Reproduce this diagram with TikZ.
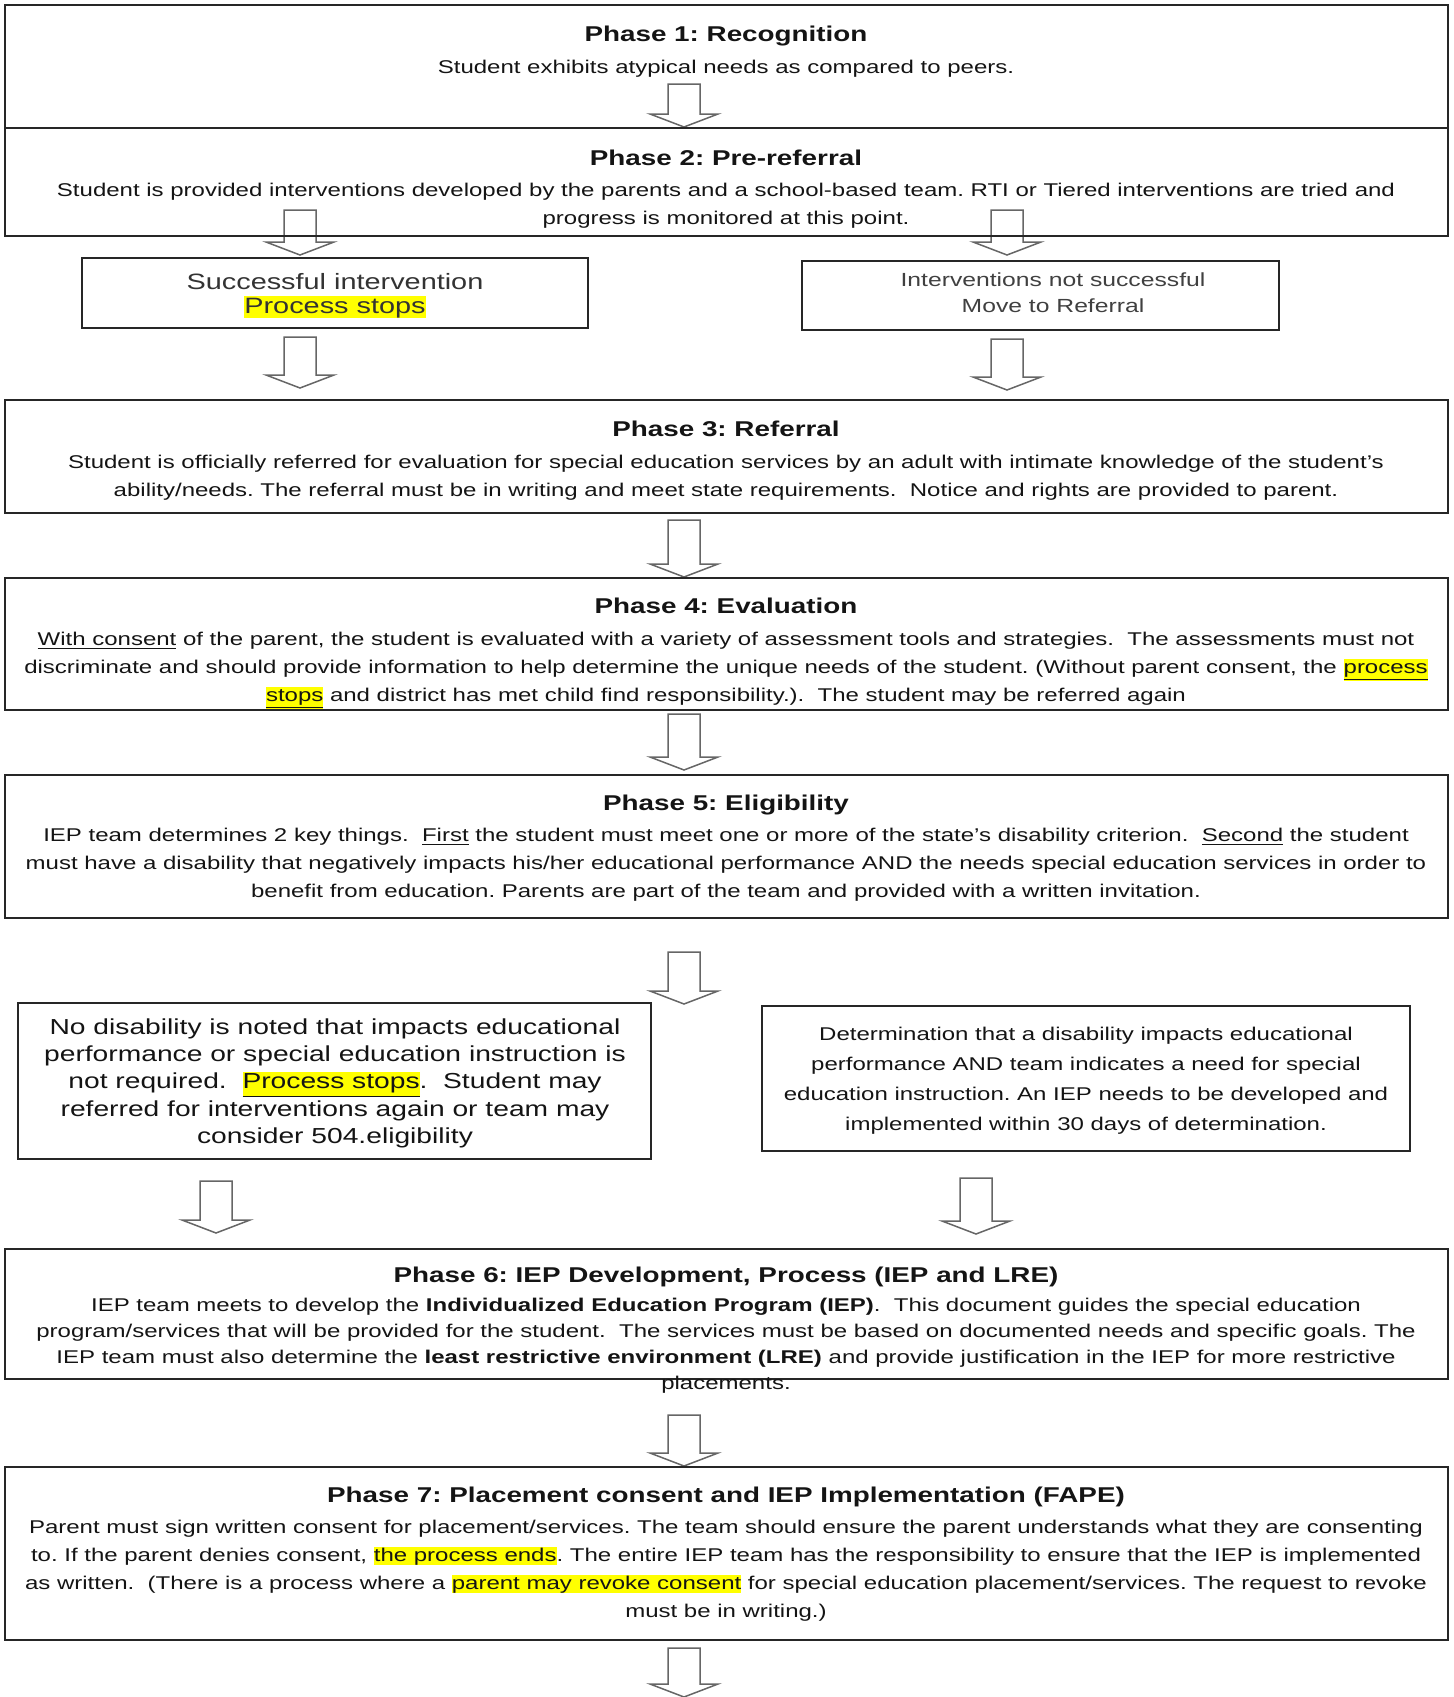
\documentclass[tikz,border=0pt]{standalone}
\usepackage{fontspec}
\setmainfont{Liberation Sans}[FakeStretch=1.3]
\usetikzlibrary{fit}
\definecolor{hly}{HTML}{FFFF00}
\frenchspacing
\newcommand{\hlt}[1]{{\setlength{\fboxsep}{0pt}\colorbox{hly}{\rule[-0.22em]{0pt}{1.0em}#1}}}
\newcommand{\BlockDown}[3]{\draw[barrow] ({#1-16},#2) -- ({#1+16},#2) -- ({#1+16},{#3-13}) -- ({#1+34},{#3-13}) -- (#1,#3) -- ({#1-34},{#3-13}) -- ({#1-16},{#3-13}) -- cycle;}
\tikzset{
  box/.style={draw=black!85, line width=1pt, inner sep=0pt},
  txt/.style={inner sep=0pt, anchor=base, text=black!92},
  ttl/.style={txt, font=\fontsize{10.7}{13}\bfseries\selectfont},
  body/.style={txt, font=\fontsize{9.23}{#1}\selectfont},
  barrow/.style={draw=black!60, line width=0.75pt, fill=white},
}
\begin{document}
\begin{tikzpicture}[x=0.5pt, y=-0.5pt]
\useasboundingbox (0,0) rectangle (1453,1697);
% block arrows
\BlockDown{684}{84}{127}
\BlockDown{300}{210}{255}
\BlockDown{1007}{210}{255}
\BlockDown{300}{337}{388}
\BlockDown{1007}{339}{390}
\BlockDown{684}{520}{577}
\BlockDown{684}{714}{770}
\BlockDown{684}{952}{1004}
\BlockDown{216}{1181}{1233}
\BlockDown{976}{1178}{1234}
\BlockDown{684}{1415}{1466}
\BlockDown{684}{1648}{1697}
% boxes
\node[box, fit={(5,5) (1448,128)}] (p1) {};
\node[box, fit={(5,128) (1448,236)}] (p2) {};
\node[box, fit={(82,258) (588,328)}] (s1) {};
\node[box, fit={(802,261) (1279,330)}] (s2) {};
\node[box, fit={(5,400) (1448,513)}] (p3) {};
\node[box, fit={(5,578) (1448,710)}] (p4) {};
\node[box, fit={(5,775) (1448,918)}] (p5) {};
\node[box, fit={(18,1003) (651,1159)}] (d1) {};
\node[box, fit={(762,1006) (1410,1151)}] (d2) {};
\node[box, fit={(5,1249) (1448,1379)}] (p6) {};
\node[box, fit={(5,1467) (1448,1640)}] (p7) {};
% texts
\node[ttl] (p1t) at (726,41) {Phase 1: Recognition};
\node[body=14pt] (p1b) at (726,73) {Student exhibits atypical needs as compared to peers.};

\node[ttl] (p2t) at (726,165) {Phase 2: Pre-referral};
\node[body=14pt] (p2b) at (726,196) {\begin{tabular}[t]{@{}c@{}}Student is provided interventions developed by the parents and a school-based team. RTI or Tiered interventions are tried and\\progress is monitored at this point.\end{tabular}};

\node[txt, font=\fontsize{11.1}{12}\selectfont, text=black!80] (s1t) at (335,289) {\begin{tabular}[t]{@{}c@{}}Successful intervention\\\hlt{Process stops}\end{tabular}};
\node[txt, font=\fontsize{9.5}{13}\selectfont, text=black!75] (s2t) at (1053,286) {\begin{tabular}[t]{@{}c@{}}Interventions not successful\\Move to Referral\end{tabular}};

\node[ttl] (p3t) at (726,436) {Phase 3: Referral};
\node[body=14pt] (p3b) at (726,468) {\begin{tabular}[t]{@{}c@{}}Student is officially referred for evaluation for special education services by an adult with intimate knowledge of the student’s\\ability/needs. The referral must be in writing and meet state requirements.~ Notice and rights are provided to parent.\end{tabular}};

\node[ttl] (p4t) at (726,613) {Phase 4: Evaluation};
\node[body=14pt] (p4b) at (726,645) {\begin{tabular}[t]{@{}c@{}}\underline{With consent} of the parent, the student is evaluated with a variety of assessment tools and strategies.~ The assessments must not\\discriminate and should provide information to help determine the unique needs of the student. (Without parent consent, the \hlt{\underline{process}}\\\hlt{\underline{stops}} and district has met child find responsibility.).~ The student may be referred again\end{tabular}};

\node[ttl] (p5t) at (726,810) {Phase 5: Eligibility};
\node[body=14pt] (p5b) at (726,841) {\begin{tabular}[t]{@{}c@{}}IEP team determines 2 key things.~ \underline{First} the student must meet one or more of the state’s disability criterion.~ \underline{Second} the student\\must have a disability that negatively impacts his/her educational performance AND the needs special education services in order to\\benefit from education. Parents are part of the team and provided with a written invitation.\end{tabular}};

\node[txt, font=\fontsize{10.85}{13.65}\selectfont] (d1t) at (335,1034) {\begin{tabular}[t]{@{}c@{}}No disability is noted that impacts educational\\performance or special education instruction is\\not required.~ \hlt{\underline{Process stops}}.~ Student may\\referred for interventions again or team may\\consider 504.eligibility\end{tabular}};
\node[body=15pt] (d2t) at (1086,1040) {\begin{tabular}[t]{@{}c@{}}Determination that a disability impacts educational\\performance AND team indicates a need for special\\education instruction. An IEP needs to be developed and\\implemented within 30 days of determination.\end{tabular}};

\node[ttl] (p6t) at (726,1282) {Phase 6: IEP Development, Process (IEP and LRE)};
\node[body=13pt] (p6b) at (726,1311) {\begin{tabular}[t]{@{}c@{}}IEP team meets to develop the \textbf{Individualized Education Program (IEP)}.~ This document guides the special education\\program/services that will be provided for the student.~ The services must be based on documented needs and specific goals. The\\IEP team must also determine the \textbf{least restrictive environment (LRE)} and provide justification in the IEP for more restrictive\\placements.\end{tabular}};

\node[ttl] (p7t) at (726,1502) {Phase 7: Placement consent and IEP Implementation (FAPE)};
\node[body=14pt] (p7b) at (726,1533) {\begin{tabular}[t]{@{}c@{}}Parent must sign written consent for placement/services. The team should ensure the parent understands what they are consenting\\to. If the parent denies consent, \hlt{the process ends}. The entire IEP team has the responsibility to ensure that the IEP is implemented\\as written.~ (There is a process where a \hlt{parent may revoke consent} for special education placement/services. The request to revoke\\must be in writing.)\end{tabular}};
\end{tikzpicture}
\end{document}
